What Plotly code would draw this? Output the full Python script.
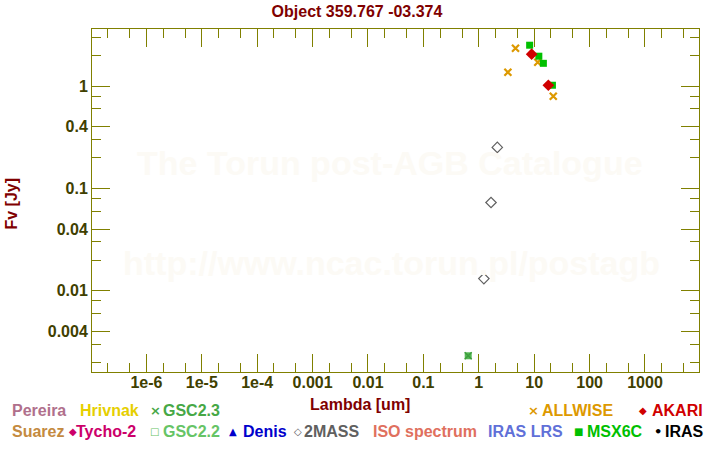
import plotly.graph_objects as go

# ---------------- data ----------------
allwise_wl = [3.35, 4.6, 11.6, 22.1]
allwise_flux = [1.365, 2.34, 1.71, 0.795]

akari_wl = [9.0, 18.0]
akari_flux = [2.05, 1.02]

msx_wl = [8.28, 12.13, 14.65, 21.34]
msx_flux = [2.51, 1.96, 1.67, 1.02]

twomass_wl = [1.235, 1.662, 2.159]
twomass_flux = [0.01316, 0.0730, 0.252]

gsc22_wl = [0.644]
gsc22_flux = [0.00232]
gsc23_wl = [0.644]
gsc23_flux = [0.00232]

x_tickvals = [1e-6, 1e-5, 1e-4, 1e-3, 1e-2, 1e-1, 1, 10, 100, 1000]
x_ticktext = ["1e-6", "1e-5", "1e-4", "0.001", "0.01", "0.1", "1", "10", "100", "1000"]
y_tickvals = [1, 0.4, 0.1, 0.04, 0.01, 0.004]
y_ticktext = ["1", "0.4", "0.1", "0.04", "0.01", "0.004"]

x_minor = [m * 10.0 ** e for e in range(-7, 4) for m in (2, 5)]
y_minor = [m * 10.0 ** e for e in range(-3, 1) for m in (2, 3, 6, 8)]

# ---------------- style ----------------
FONT = "Liberation Sans"
OLIVE = "#808000"
LBL = "#404000"
DARKRED = "#800000"
WMARK = "#FCFAF5"

W, H = 720, 450
# plot frame in page pixels: x 92..699, y 29..372
L, T = 92, 29
R, B = W - 699, H - 372
PW, PH = W - L - R, H - T - B


def px(x):  # page pixel -> paper
    return (x - L) / PW


def py(y):
    return (H - B - y) / PH


fig = go.Figure()

fig.add_trace(go.Scatter(x=gsc22_wl, y=gsc22_flux, mode="markers",
                         marker=dict(symbol="square", size=7, color="#55B855", line=dict(width=0)),
                         showlegend=False))
fig.add_trace(go.Scatter(x=gsc23_wl, y=gsc23_flux, mode="markers",
                         marker=dict(symbol="x-thin", size=7, color="#3E9E3E",
                                     line=dict(width=1.5, color="#3E9E3E")),
                         showlegend=False))
fig.add_trace(go.Scatter(x=twomass_wl, y=twomass_flux, mode="markers",
                         marker=dict(symbol="diamond-open", size=8, color="#606060",
                                     line=dict(width=1.2, color="#606060")),
                         showlegend=False))
fig.add_trace(go.Scatter(x=allwise_wl, y=allwise_flux, mode="markers",
                         marker=dict(symbol="x-thin", size=7, color="#DD9900",
                                     line=dict(width=2.2, color="#DD9900")),
                         showlegend=False))
fig.add_trace(go.Scatter(x=msx_wl, y=msx_flux, mode="markers",
                         marker=dict(symbol="square", size=7, color="#00C000", line=dict(width=0)),
                         showlegend=False))
fig.add_trace(go.Scatter(x=akari_wl, y=akari_flux, mode="markers",
                         marker=dict(symbol="diamond", size=9, color="#D00000", line=dict(width=0)),
                         showlegend=False))

axis_common = dict(
    type="log", showgrid=False, zeroline=False,
    showline=True, linecolor=OLIVE, linewidth=1, mirror="ticks",
    ticks="inside", ticklen=18, tickcolor=OLIVE, tickwidth=1,
    tickmode="array",
    tickfont=dict(family=FONT, size=16, color=LBL, weight="bold"),
)

fig.update_xaxes(**axis_common, range=[-6.982, 3.975],
                 tickvals=x_tickvals, ticktext=x_ticktext, ticklabelstandoff=-4,
                 minor=dict(tickmode="array", tickvals=x_minor, ticks="inside",
                            ticklen=9, tickcolor=OLIVE, tickwidth=1, showgrid=False))
fig.update_yaxes(**axis_common, range=[-2.793, 0.558],
                 tickvals=y_tickvals, ticktext=y_ticktext,
                 minor=dict(tickmode="array", tickvals=y_minor, ticks="inside",
                            ticklen=9, tickcolor=OLIVE, tickwidth=1, showgrid=False))

ann = []
# watermark
ann.append(dict(text="The Torun post-AGB Catalogue", x=px(390), y=py(163), xref="paper", yref="paper",
                showarrow=False, xanchor="center", yanchor="middle",
                font=dict(family=FONT, size=34, color=WMARK, weight="bold")))
ann.append(dict(text="http://www.ncac.torun.pl/postagb", x=px(391), y=py(263), xref="paper", yref="paper",
                showarrow=False, xanchor="center", yanchor="middle",
                font=dict(family=FONT, size=34, color=WMARK, weight="bold")))
# axis titles
ann.append(dict(text="Lambda [um]", x=px(360), y=py(404), xref="paper", yref="paper",
                showarrow=False, xanchor="center", yanchor="middle",
                font=dict(family=FONT, size=16, color=DARKRED, weight="bold")))
ann.append(dict(text="Fv [Jy]", x=px(10.5), y=py(204), xref="paper", yref="paper", textangle=-90,
                showarrow=False, xanchor="center", yanchor="middle",
                font=dict(family=FONT, size=16, color=DARKRED, weight="bold")))

# legend entries: (symbol, symbol_x, text, text_x, y, color)
legend = [
    (None, 0, "Pereira", 10, 410.5, "#B0708C"),
    (None, 0, "Hrivnak", 77.5, 410.5, "#E6CF00"),
    ("×", 148, "GSC2.3", 160.5, 410.5, "#46A846"),
    ("×", 526, "ALLWISE", 540, 410.5, "#DD9900"),
    ("◆", 636.5, "AKARI", 650, 410.5, "#D00000"),
    (None, 0, "Suarez", 10, 431, "#C48A40"),
    ("◆", 66.5, "Tycho-2", 74, 431, "#CC006A"),
    ("□", 148, "GSC2.2", 160.5, 431, "#66C466"),
    ("▲", 226.5, "Denis", 240.5, 431, "#0000CC"),
    ("◇", 291.5, "2MASS", 301.5, 431, "#606060"),
    (None, 0, "ISO spectrum", 370.5, 431, "#E0705E"),
    (None, 0, "IRAS LRS", 485.5, 431, "#6070D8"),
    ("■", 572, "MSX6C", 585, 431, "#00C000"),
    ("•", 652, "IRAS", 663, 431, "#000000"),
]
for sym, sx, txt, tx, yy, col in legend:
    if sym:
        ann.append(dict(text=sym, x=px(sx), y=py(yy), xref="paper", yref="paper",
                        showarrow=False, xanchor="left", yanchor="middle",
                        font=dict(family="DejaVu Sans", size=10 if sym not in ("×", "•") else 13,
                                  color=col, weight="bold")))
    ann.append(dict(text=txt, x=px(tx), y=py(yy), xref="paper", yref="paper",
                    showarrow=False, xanchor="left", yanchor="middle",
                    font=dict(family=FONT, size=16, color=col, weight="bold")))

fig.update_layout(
    width=W, height=H,
    margin=dict(l=L, r=R, t=T, b=B, pad=0),
    paper_bgcolor="white", plot_bgcolor="white",
    showlegend=False,
    title=dict(text="Object 359.767 -03.374", x=357 / W, xref="container", xanchor="center",
               y=1 - 11.5 / H, yref="container", yanchor="middle",
               font=dict(family=FONT, size=16, color=DARKRED, weight="bold")),
    annotations=ann,
)

fig.write_html(
    "out.html",
    config={"displayModeBar": False},
    post_script="document.body.style.margin='0';document.body.style.padding='0';"
                "document.body.style.overflow='hidden';",
)
